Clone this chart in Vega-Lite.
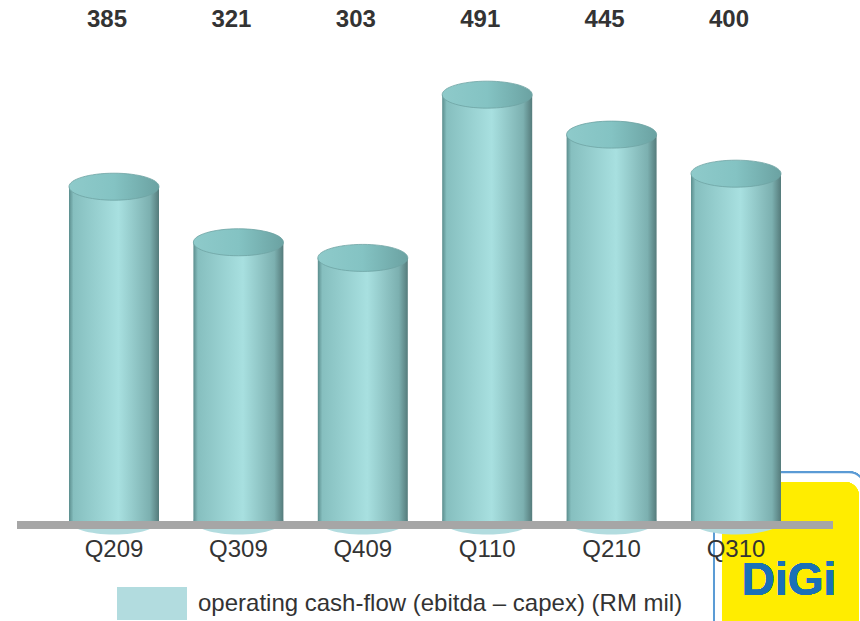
{
  "$schema": "https://vega.github.io/schema/vega-lite/v6.json",
  "width": 816,
  "height": 521,
  "autosize": {"type": "none"},
  "padding": {"left": 17, "top": 0, "right": 27, "bottom": 100},
  "background": "white",
  "data": {
    "values": [
      {"quarter": "Q209", "value": 385, "series": "operating cash-flow (ebitda – capex) (RM mil)"},
      {"quarter": "Q309", "value": 321, "series": "operating cash-flow (ebitda – capex) (RM mil)"},
      {"quarter": "Q409", "value": 303, "series": "operating cash-flow (ebitda – capex) (RM mil)"},
      {"quarter": "Q110", "value": 491, "series": "operating cash-flow (ebitda – capex) (RM mil)"},
      {"quarter": "Q210", "value": 445, "series": "operating cash-flow (ebitda – capex) (RM mil)"},
      {"quarter": "Q310", "value": 400, "series": "operating cash-flow (ebitda – capex) (RM mil)"}
    ]
  },
  "layer": [
    {
      "mark": {"type": "rect", "fill": "white", "stroke": "#5b9bd5", "strokeWidth": 2, "cornerRadius": 16, "xOffset": 23, "x2Offset": 84},
      "encoding": {
        "x": {"datum": "Q310", "type": "nominal", "bandPosition": 0, "axis": null, "scale": {"domain": ["Q209", "Q309", "Q409", "Q110", "Q210", "Q310"], "paddingInner": 0.2765, "paddingOuter": 0.418}},
        "x2": {"datum": "Q310", "bandPosition": 1},
        "y": {"datum": 56, "type": "quantitative", "axis": null, "scale": {"domain": [0, 600], "nice": false}},
        "y2": {"datum": -140}
      }
    },
    {
      "mark": {"type": "rect", "fill": "#ffed00", "cornerRadius": 14, "xOffset": 31, "x2Offset": 78},
      "encoding": {
        "x": {"datum": "Q310", "type": "nominal", "bandPosition": 0, "axis": null},
        "x2": {"datum": "Q310", "bandPosition": 1},
        "y": {"datum": 45, "type": "quantitative", "axis": null},
        "y2": {"datum": -130}
      }
    },
    {
      "mark": {"type": "text", "text": "DiGi", "font": "Liberation Sans", "fontWeight": "bold", "fontSize": 46, "color": "#1a70b8", "baseline": "middle", "align": "center", "dx": 53},
      "encoding": {
        "x": {"datum": "Q310", "type": "nominal", "axis": null},
        "y": {"datum": -69, "type": "quantitative", "axis": null}
      }
    },
    {
      "mark": {"type": "point", "filled": true, "opacity": 1, "size": 8100, "shape": "M -1 0 A 1 0.3 0 1 0 1 0 A 1 0.3 0 1 0 -1 0 Z"},
      "encoding": {
        "x": {"field": "quarter", "type": "nominal", "sort": null, "axis": null},
        "y": {"datum": 0, "type": "quantitative", "axis": null},
        "fill": {
          "field": "series",
          "type": "nominal",
          "scale": {"range": ["#b2dcdf"]},
          "legend": {
            "orient": "none",
            "legendX": 100,
            "legendY": 568.5,
            "title": null,
            "padding": 0,
            "symbolType": "M -1 -0.4714 H 1 V 0.4714 H -1 Z",
            "symbolSize": 4900,
            "symbolStrokeWidth": 0,
            "symbolOpacity": 1,
            "labelFont": "Liberation Sans",
            "labelFontSize": 24,
            "labelColor": "#333333",
            "labelOffset": 11,
            "labelLimit": 0
          }
        }
      }
    },
    {
      "mark": {
        "type": "bar",
        "fill": {
          "gradient": "linear", "x1": 0, "y1": 0, "x2": 1, "y2": 0,
          "stops": [
            {"offset": 0, "color": "#5b8d8d"},
            {"offset": 0.05, "color": "#86bfbf"},
            {"offset": 0.55, "color": "#a8e0e0"},
            {"offset": 0.9, "color": "#7cb0b0"},
            {"offset": 1, "color": "#557b7b"}
          ]
        }
      },
      "encoding": {
        "x": {"field": "quarter", "type": "nominal", "sort": null, "axis": null},
        "y": {"field": "value", "type": "quantitative", "axis": null},
        "y2": {"datum": 0}
      }
    },
    {
      "mark": {
        "type": "point", "filled": true, "opacity": 1, "size": 8100,
        "shape": "M -1 0 A 1 0.3 0 1 0 1 0 A 1 0.3 0 1 0 -1 0 Z",
        "fill": {
          "gradient": "linear", "x1": 0, "y1": 0, "x2": 1, "y2": 0,
          "stops": [
            {"offset": 0, "color": "#8ecaca"},
            {"offset": 0.5, "color": "#84c3c3"},
            {"offset": 1, "color": "#6ba2a2"}
          ]
        },
        "stroke": "#6fa3a3",
        "strokeWidth": 0.8
      },
      "encoding": {
        "x": {"field": "quarter", "type": "nominal", "sort": null, "axis": null},
        "y": {"field": "value", "type": "quantitative", "axis": null}
      }
    },
    {
      "mark": {"type": "rule", "color": "#a6a6a6", "strokeWidth": 7.5, "yOffset": 3.8},
      "encoding": {
        "y": {"datum": 0, "type": "quantitative", "axis": null}
      }
    },
    {
      "mark": {"type": "text", "font": "Liberation Sans", "fontSize": 24, "color": "#333333", "baseline": "alphabetic", "align": "center", "dy": 36},
      "encoding": {
        "x": {"field": "quarter", "type": "nominal", "sort": null, "axis": null},
        "y": {"datum": 0, "type": "quantitative", "axis": null},
        "text": {"field": "quarter", "type": "nominal"}
      }
    },
    {
      "mark": {"type": "text", "font": "Liberation Sans", "fontWeight": "bold", "fontSize": 24, "color": "#333333", "baseline": "middle", "align": "center", "dx": -7},
      "encoding": {
        "x": {"field": "quarter", "type": "nominal", "sort": null, "axis": null},
        "y": {"datum": 577, "type": "quantitative", "axis": null},
        "text": {"field": "value", "type": "quantitative"}
      }
    }
  ],
  "config": {
    "view": {"stroke": null}
  }
}
